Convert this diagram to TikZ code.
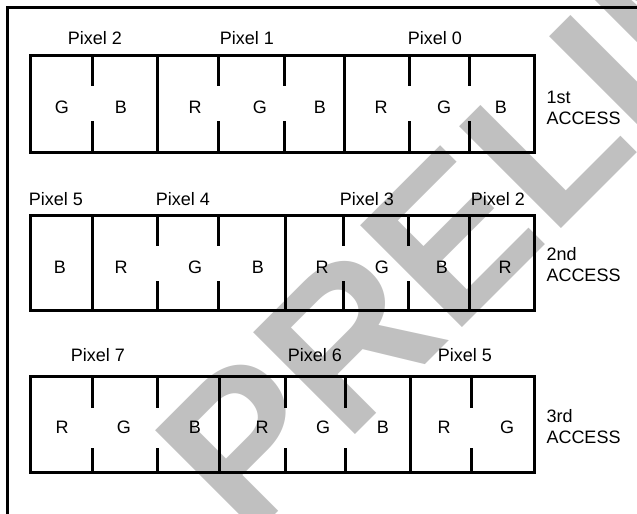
\documentclass[tikz,border=0pt]{standalone}
\usepackage{fontspec}
\setmainfont{Liberation Sans}
\definecolor{wmgray}{RGB}{192,192,192}
\begin{document}
\begin{tikzpicture}[x=0.75pt,y=-0.75pt,line width=2.25pt,
  lbl/.style={font=\fontsize{13.5}{15.75}\selectfont,inner sep=0pt},
  acc/.style={lbl,align=left,anchor=west},
  wmtext/.style={font=\fontsize{157}{160}\selectfont\bfseries,text=wmgray,inner sep=0pt,anchor=base west,rotate=45}]
\useasboundingbox (0,0) rectangle (637,514);
% watermark
\begin{scope}
\clip (0,0) rectangle (637,514);
\node[wmtext] (wm) at (246,544) {PRELIMINARY};
\end{scope}
% outer frame (only top and left visible)
\draw (7,514) -- (7,7) -- (637,7);
% ---------- Row 1 ----------
\draw (30,55) rectangle (534,152);
\foreach \x in {157,344} \draw (\x,55) -- (\x,152);
\foreach \x in {92,218,284,409,469} {\draw (\x,55) -- (\x,86); \draw (\x,121) -- (\x,152);}
\foreach \x/\t [count=\i] in {62/G,121/B,195/R,260/G,320/B,381/R,444/G,501/B}
  \node[lbl] (a\i) at (\x,107) {\t};
\node[lbl] (a-p2) at (95,38) {Pixel 2};
\node[lbl] (a-p1) at (247,38) {Pixel 1};
\node[lbl] (a-p0) at (435,38) {Pixel 0};
\node[acc] (a-acc) at (545,107.5) {1st\\ACCESS};
% ---------- Row 2 ----------
\draw (30,215) rectangle (534,310);
\foreach \x in {92,285,469} \draw (\x,215) -- (\x,310);
\foreach \x in {157,218,343,408} {\draw (\x,215) -- (\x,246); \draw (\x,281) -- (\x,311);}
\foreach \x/\t [count=\i] in {60/B,121/R,195/G,258/B,322/R,382/G,442/B,505/R}
  \node[lbl] (b\i) at (\x,267) {\t};
\node[lbl] (b-p5) at (56,199) {Pixel 5};
\node[lbl] (b-p4) at (183,199) {Pixel 4};
\node[lbl] (b-p3) at (367,199) {Pixel 3};
\node[lbl] (b-p2) at (498,199) {Pixel 2};
\node[acc] (b-acc) at (545,264.5) {2nd\\ACCESS};
% ---------- Row 3 ----------
\draw (30,376) rectangle (534,472);
\foreach \x in {219,410} \draw (\x,376) -- (\x,472);
\foreach \x in {92,157,285,345,471} {\draw (\x,376) -- (\x,408); \draw (\x,448) -- (\x,472);}
\foreach \x/\t [count=\i] in {62/R,124/G,195/B,262/R,323/G,383/B,444/R,507/G}
  \node[lbl] (c\i) at (\x,427) {\t};
\node[lbl] (c-p7) at (98,355) {Pixel 7};
\node[lbl] (c-p6) at (315,355) {Pixel 6};
\node[lbl] (c-p5) at (465,355) {Pixel 5};
\node[acc] (c-acc) at (545,427) {3rd\\ACCESS};
\end{tikzpicture}
\end{document}
